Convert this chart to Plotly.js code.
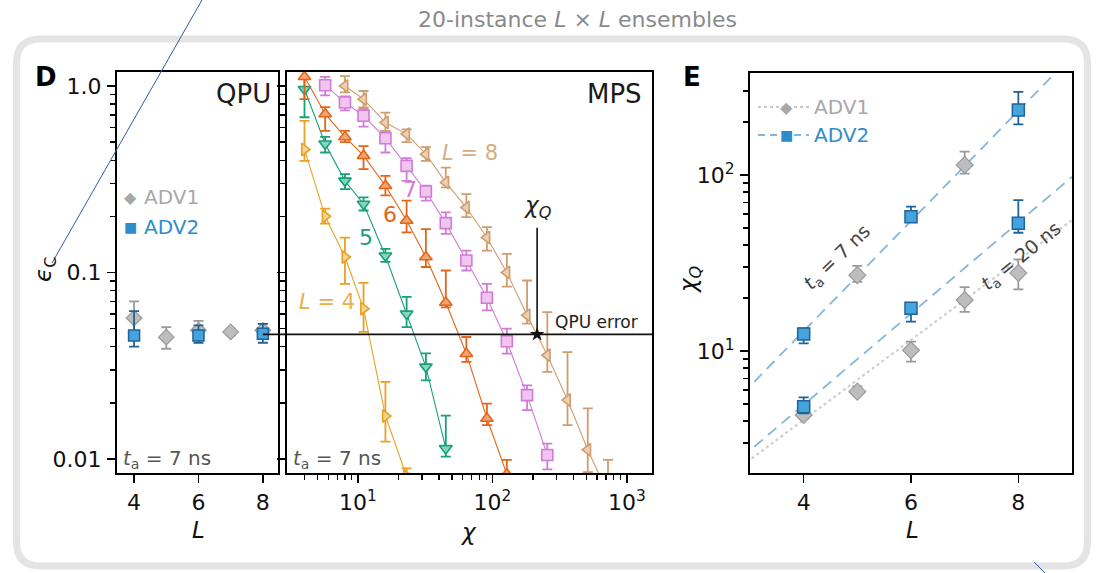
<!DOCTYPE html>
<html><head><meta charset="utf-8">
<script src="https://cdn.plot.ly/plotly-3.0.1.min.js"></script>
<style>html,body{margin:0;padding:0;background:#fff}#chart{width:1099px;height:573px}</style>
</head><body><div id="chart"></div>
<script>
// ---------- DATA ----------
// Panel D, QPU
const qpuL_ADV1 = [4, 5, 6, 7, 8];
const qpuEps_ADV1 = [0.057, 0.045, 0.049, 0.048, 0.049];
const qpuHi_ADV1 = [0.070, 0.051, 0.055, 0.050, 0.053];
const qpuLo_ADV1 = [0.047, 0.039, 0.044, 0.046, 0.045];
const qpuL_ADV2 = [4, 6, 8];
const qpuEps_ADV2 = [0.046, 0.046, 0.047];
const qpuHi_ADV2 = [0.062, 0.052, 0.053];
const qpuLo_ADV2 = [0.040, 0.042, 0.042];
const qpuError = 0.0466;
const chiQ = 215;
const chiQLabelEps = 0.174;

// Panel D, MPS (bond dimension chi vs error)
const chiL4 = [4, 5.7, 8, 11, 16, 23];
const epsL4 = [0.457, 0.20, 0.121, 0.064, 0.0170, 0.0081];
const hiL4  = [0.65, 0.22, 0.154, 0.088, 0.0259, 0.0089];
const loL4  = [0.397, 0.183, 0.087, 0.048, 0.0124, 0.0075];

const chiL5 = [4, 5.7, 8, 11, 16, 23, 32, 45];
const epsL5 = [0.96, 0.49, 0.31, 0.233, 0.123, 0.060, 0.0312, 0.0114];
const hiL5  = [1.2, 0.533, 0.337, 0.253, 0.134, 0.074, 0.0368, 0.0171];
const loL5  = [0.68, 0.44, 0.28, 0.215, 0.114, 0.051, 0.0264, 0.0103];

const chiL6 = [4, 5.7, 8, 11, 16, 23, 32, 45, 64, 91, 128];
const epsL6 = [1.12, 0.708, 0.533, 0.423, 0.292, 0.19, 0.121, 0.069, 0.0367, 0.0165, 0.0083];
const hiL6  = [1.25, 0.77, 0.574, 0.476, 0.33, 0.243, 0.171, 0.1025, 0.0451, 0.0198, 0.0099];
const loL6  = [0.85, 0.574, 0.5, 0.358, 0.259, 0.164, 0.107, 0.065, 0.0332, 0.0152, 0.0075];

const chiL7 = [5.7, 8, 11, 16, 23, 32, 45, 64, 91, 128, 181, 256];
const epsL7 = [1.01, 0.815, 0.692, 0.525, 0.373, 0.272, 0.184, 0.116, 0.0732, 0.0428, 0.022, 0.0105];
const hiL7  = [1.12, 0.88, 0.755, 0.574, 0.41, 0.292, 0.21, 0.131, 0.087, 0.05, 0.0248, 0.0121];
const loL7  = [0.89, 0.74, 0.605, 0.44, 0.31, 0.243, 0.161, 0.1025, 0.0626, 0.0367, 0.0183, 0.0088];

const chiL8 = [8, 11, 16, 23, 32, 45, 64, 91, 128, 181, 256, 362, 512, 724];
const epsL8 = [1.0, 0.85, 0.637, 0.552, 0.431, 0.304, 0.223, 0.154, 0.1, 0.059, 0.036, 0.0207, 0.0112, 0.0065];
const hiL8  = [1.13, 0.94, 0.72, 0.585, 0.47, 0.365, 0.263, 0.175, 0.126, 0.0906, 0.0613, 0.0374, 0.0187, 0.0099];
const loL8  = [0.925, 0.767, 0.574, 0.5, 0.397, 0.286, 0.198, 0.131, 0.084, 0.0532, 0.0293, 0.0152, 0.0085, 0.005];

// Panel E
const eL_ADV2 = [4, 6, 8];
const eChi_ADV2_7ns = [12.5, 58, 234];
const eHi_ADV2_7ns = [13.45, 66.1, 297];
const eLo_ADV2_7ns = [11.06, 54.4, 194];
const eChi_ADV2_20ns = [4.83, 17.5, 53.2];
const eHi_ADV2_20ns = [5.45, 18.8, 72];
const eLo_ADV2_20ns = [4.43, 14.7, 47];
const eL_ADV1_7ns = [5, 7];
const eChi_ADV1_7ns = [27, 114];
const eHi_ADV1_7ns = [30.5, 136];
const eLo_ADV1_7ns = [24.7, 102];
const eL_ADV1_20ns = [4, 5, 6, 7, 8];
const eChi_ADV1_20ns = [4.33, 5.88, 10.1, 19.5, 27.8];
const eHi_ADV1_20ns = [4.6, 6.3, 11.3, 23.1, 33.2];
const eLo_ADV1_20ns = [4.1, 5.6, 8.7, 16.7, 22.4];
// exponential fits (end points)
const fitL_ADV2 = [3.08, 9];
const fitChi_ADV2_7ns = [6.69, 476];
const fitChi_ADV2_20ns = [2.86, 97.7];
const fitL_ADV1 = [3.03, 9];
const fitChi_ADV1_20ns = [2.45, 55.5];

// ---------- LAYOUT HELPERS ----------
const W = 1099, H = 573;
const PX = x => x / W, PY = y => 1 - y / H;
const FONT = 'DejaVu Sans, Liberation Sans, Arial, sans-serif';

function errs(y, hi, lo, color) {
  return {type: 'data', symmetric: false,
    array: hi.map((h, i) => h - y[i]),
    arrayminus: lo.map((l, i) => y[i] - l),
    color: color, thickness: 1.8, width: 5};
}
function minorLog(lo, hi) {
  const v = [];
  for (let d = lo; d <= hi; d++) for (let k = 2; k <= 9; k++) v.push(k * Math.pow(10, d));
  return v;
}

const styles = [
  {chi: chiL4, eps: epsL4, hi: hiL4, lo: loL4, color: '#E8A125', fill: '#F7D48E', sym: 'triangle-right'},
  {chi: chiL5, eps: epsL5, hi: hiL5, lo: loL5, color: '#17A07A', fill: '#86D6BC', sym: 'triangle-down'},
  {chi: chiL6, eps: epsL6, hi: hiL6, lo: loL6, color: '#E2661A', fill: '#F4A56E', sym: 'triangle-up'},
  {chi: chiL7, eps: epsL7, hi: hiL7, lo: loL7, color: '#D27BD6', fill: '#F0C6F1', sym: 'square'},
  {chi: chiL8, eps: epsL8, hi: hiL8, lo: loL8, color: '#CF9D6E', fill: '#EBD0B4', sym: 'triangle-left'}
];

const traces = [];
// QPU
traces.push({x: qpuL_ADV1, y: qpuEps_ADV1, xaxis: 'x', yaxis: 'y', mode: 'markers',
  marker: {symbol: 'diamond', size: 12, color: '#BDBDBD', line: {color: '#9A9A9A', width: 1.2}},
  error_y: errs(qpuEps_ADV1, qpuHi_ADV1, qpuLo_ADV1, '#9A9A9A')});
traces.push({x: qpuL_ADV2, y: qpuEps_ADV2, xaxis: 'x', yaxis: 'y', mode: 'markers',
  marker: {symbol: 'square', size: 11, color: '#45A3DD', line: {color: '#1E6399', width: 1.5}},
  error_y: errs(qpuEps_ADV2, qpuHi_ADV2, qpuLo_ADV2, '#1E6399')});
// MPS
styles.forEach(s => {
  traces.push({x: s.chi, y: s.eps, xaxis: 'x2', yaxis: 'y2', mode: 'lines+markers',
    line: {color: s.color, width: 1.1},
    marker: {symbol: s.sym, size: 11, color: s.fill, line: {color: s.color, width: 1.6}},
    error_y: errs(s.eps, s.hi, s.lo, s.color)});
});
traces.push({x: [chiQ], y: [qpuError], xaxis: 'x2', yaxis: 'y2', mode: 'markers',
  marker: {symbol: 'star', size: 11, color: '#111'}});
// E fits
traces.push({x: fitL_ADV2, y: fitChi_ADV2_7ns, xaxis: 'x3', yaxis: 'y3', mode: 'lines',
  line: {color: '#86B6D8', width: 1.8, dash: '11px,7px'}});
traces.push({x: fitL_ADV2, y: fitChi_ADV2_20ns, xaxis: 'x3', yaxis: 'y3', mode: 'lines',
  line: {color: '#86B6D8', width: 1.8, dash: '11px,7px'}});
traces.push({x: fitL_ADV1, y: fitChi_ADV1_20ns, xaxis: 'x3', yaxis: 'y3', mode: 'lines',
  line: {color: '#CFCFCF', width: 2.2, dash: 'dot'}});
// E points
const adv1M = {symbol: 'diamond', size: 13, color: '#BDBDBD', line: {color: '#9A9A9A', width: 1.2}};
const adv2M = {symbol: 'square', size: 12, color: '#45A3DD', line: {color: '#1E6399', width: 1.5}};
traces.push({x: eL_ADV1_7ns, y: eChi_ADV1_7ns, xaxis: 'x3', yaxis: 'y3', mode: 'markers', marker: adv1M,
  error_y: errs(eChi_ADV1_7ns, eHi_ADV1_7ns, eLo_ADV1_7ns, '#9A9A9A')});
traces.push({x: eL_ADV1_20ns, y: eChi_ADV1_20ns, xaxis: 'x3', yaxis: 'y3', mode: 'markers', marker: adv1M,
  error_y: errs(eChi_ADV1_20ns, eHi_ADV1_20ns, eLo_ADV1_20ns, '#9A9A9A')});
traces.push({x: eL_ADV2, y: eChi_ADV2_7ns, xaxis: 'x3', yaxis: 'y3', mode: 'markers', marker: adv2M,
  error_y: errs(eChi_ADV2_7ns, eHi_ADV2_7ns, eLo_ADV2_7ns, '#1E6399')});
traces.push({x: eL_ADV2, y: eChi_ADV2_20ns, xaxis: 'x3', yaxis: 'y3', mode: 'markers', marker: adv2M,
  error_y: errs(eChi_ADV2_20ns, eHi_ADV2_20ns, eLo_ADV2_20ns, '#1E6399')});

// ---------- AXES ----------
const tickFont = {family: FONT, size: 22, color: '#111'};
const base = {showline: true, mirror: true, linecolor: '#000', linewidth: 2, ticks: 'outside',
  ticklen: 8, tickwidth: 1.6, tickcolor: '#000', showgrid: false, zeroline: false, tickfont: tickFont};
const minorStyle = vals => ({tickmode: 'array', tickvals: vals, ticks: 'outside', ticklen: 5, tickwidth: 1.3, tickcolor: '#000', showgrid: false});

const yDom = [PY(473), PY(72)];
const xQ = [3.47, 8.47], xQdom = [PX(117), PX(278)];
const layout = {
  width: W, height: H, margin: {l: 0, r: 0, t: 0, b: 0},
  paper_bgcolor: '#fff', plot_bgcolor: '#fff', showlegend: false,
  font: {family: FONT, color: '#111'},
  xaxis: Object.assign({}, base, {domain: xQdom, range: xQ, anchor: 'y', tickvals: [4, 6, 8], ticklabelstandoff: 1}),
  yaxis: Object.assign({}, base, {domain: yDom, type: 'log', range: [-2.075, 0.075], anchor: 'x',
    tickmode: 'array', tickvals: [0.01, 0.1, 1], ticktext: ['0.01', '0.1', '1.0'], ticklabelstandoff: 1,
    minor: minorStyle(minorLog(-2, -1))}),
  xaxis2: Object.assign({}, base, {domain: [PX(287), PX(652)], type: 'log', range: [0.472, 3.187], anchor: 'y2',
    tickmode: 'array', tickvals: [10, 100, 1000], ticktext: ['10<sup>1</sup>', '10<sup>2</sup>', '10<sup>3</sup>'],
    ticklabelstandoff: 1, minor: minorStyle(minorLog(0, 2).filter(v => v >= 4))}),
  yaxis2: Object.assign({}, base, {domain: yDom, type: 'log', range: [-2.075, 0.075], anchor: 'x2',
    tickmode: 'array', tickvals: [0.01, 0.1, 1], showticklabels: false,
    minor: minorStyle(minorLog(-2, -1))}),
  xaxis3: Object.assign({}, base, {domain: [PX(750), PX(1072)], range: [3, 9], anchor: 'y3', tickvals: [4, 6, 8], ticklabelstandoff: 1}),
  yaxis3: Object.assign({}, base, {domain: [PY(473), PY(73)], type: 'log', range: [0.307, 2.58], anchor: 'x3',
    tickmode: 'array', tickvals: [10, 100], ticktext: ['10<sup>1</sup>', '10<sup>2</sup>'], ticklabelstandoff: 1,
    minor: minorStyle(minorLog(0, 2).filter(v => v <= 300))}),
  shapes: [],
  annotations: []
};

// outer rounded frame
(function () {
  const x0 = 16.5, x1 = 1087.5, y0 = 39, y1 = 566, r = 24;
  const p = (x, y) => PX(x) + ',' + PY(y);
  const path = 'M' + p(x0 + r, y0) + ' L' + p(x1 - r, y0) + ' Q' + p(x1, y0) + ' ' + p(x1, y0 + r) +
    ' L' + p(x1, y1 - r) + ' Q' + p(x1, y1) + ' ' + p(x1 - r, y1) + ' L' + p(x0 + r, y1) +
    ' Q' + p(x0, y1) + ' ' + p(x0, y1 - r) + ' L' + p(x0, y0 + r) + ' Q' + p(x0, y0) + ' ' + p(x0 + r, y0) + ' Z';
  layout.shapes.push({type: 'path', xref: 'paper', yref: 'paper', path: path, line: {color: '#E4E4E4', width: 7}, layer: 'below'});
})();

// QPU error line: from QPU L=8 across MPS panel
const qx0 = xQdom[0] + (8 - xQ[0]) / (xQ[1] - xQ[0]) * (xQdom[1] - xQdom[0]);
layout.shapes.push({type: 'line', xref: 'paper', yref: 'y2', x0: qx0, x1: PX(652), y0: qpuError, y1: qpuError,
  line: {color: '#111', width: 1.6}});
// chi_Q pointer
layout.shapes.push({type: 'line', xref: 'x2', yref: 'y2', x0: chiQ, x1: chiQ, y0: chiQLabelEps, y1: qpuError,
  line: {color: '#111', width: 1.6}});
// stray blue strokes present in reference
layout.shapes.push({type: 'line', xref: 'paper', yref: 'paper', x0: PX(202), y0: PY(0), x1: PX(52), y1: PY(263), line: {color: '#2E5EA8', width: 1}});
layout.shapes.push({type: 'line', xref: 'paper', yref: 'paper', x0: PX(1034), y0: PY(562), x1: PX(1045), y1: PY(573), line: {color: '#2E5EA8', width: 1}});
// E legend lines
layout.shapes.push({type: 'line', xref: 'paper', yref: 'paper', x0: PX(758), x1: PX(809), y0: PY(107), y1: PY(107), line: {color: '#C8C8C8', width: 2.2, dash: 'dot'}});
layout.shapes.push({type: 'line', xref: 'paper', yref: 'paper', x0: PX(758), x1: PX(809), y0: PY(135), y1: PY(135), line: {color: '#86B6D8', width: 1.8, dash: '7px,5px'}});

function ann(x, y, text, size, color, opts) {
  layout.annotations.push(Object.assign({xref: 'paper', yref: 'paper', x: PX(x), y: PY(y), text: text,
    showarrow: false, xanchor: 'center', yanchor: 'middle',
    font: {family: FONT, size: size, color: color}}, opts || {}));
}
ann(577, 19, '20-instance <i>L</i> × <i>L</i> ensembles', 22, '#8A8A8A');
ann(46, 77, '<b>D</b>', 26, '#000');
ann(692, 77, '<b>E</b>', 26, '#000');
ann(273, 94, 'QPU', 26, '#1A1A1A', {xanchor: 'right'});
ann(644, 94, 'MPS', 26, '#1A1A1A', {xanchor: 'right'});
ann(121, 459, '<i>t</i><sub>a</sub> = 7 ns', 20, '#555', {xanchor: 'left'});
ann(291, 459, '<i>t</i><sub>a</sub> = 7 ns', 20, '#555', {xanchor: 'left'});
ann(440, 153, '<i>L</i> = 8', 21, '#D6AC82', {xanchor: 'left'});
ann(410, 190, '7', 22, '#D27BD6');
ann(390, 215, '6', 22, '#E2661A');
ann(366, 237, '5', 22, '#17A07A');
ann(297, 302, '<i>L</i> = 4', 21, '#E8B04A', {xanchor: 'left'});
ann(537, 207, '<i>χ<sub>Q</sub></i>', 23, '#222');
ann(553, 322, 'QPU error', 17, '#222', {xanchor: 'left'});
ann(45, 270, '<i>ϵ</i><sub>C</sub>', 23, '#111', {textangle: -90});
ann(198, 530, '<i>L</i>', 23, '#111');
ann(468, 532, '<i>χ</i>', 23, '#111');
ann(912, 530, '<i>L</i>', 23, '#111');
ann(690, 280, '<i>χ<sub>Q</sub></i>', 23, '#111', {textangle: -90});
ann(838, 258, '<i>t</i><sub>a</sub> = 7 ns', 19, '#444', {textangle: -44});
ann(1022, 257, '<i>t</i><sub>a</sub> = 20 ns', 19, '#444', {textangle: -39});
// QPU legend
ann(130, 197, '◆', 16, '#A8A8A8');
ann(142, 197, 'ADV1', 20, '#A8A8A8', {xanchor: 'left'});
ann(130, 227, '■', 14, '#2F8CCB');
ann(142, 227, 'ADV2', 20, '#2F8CCB', {xanchor: 'left'});
// E legend
ann(786, 107, '◆', 16, '#A8A8A8');
ann(812, 107, 'ADV1', 20, '#A8A8A8', {xanchor: 'left'});
ann(786, 135, '■', 14, '#2F8CCB');
ann(812, 135, 'ADV2', 20, '#2F8CCB', {xanchor: 'left'});

Plotly.newPlot('chart', traces, layout, {displayModeBar: false, staticPlot: true});
</script>
</body></html>
